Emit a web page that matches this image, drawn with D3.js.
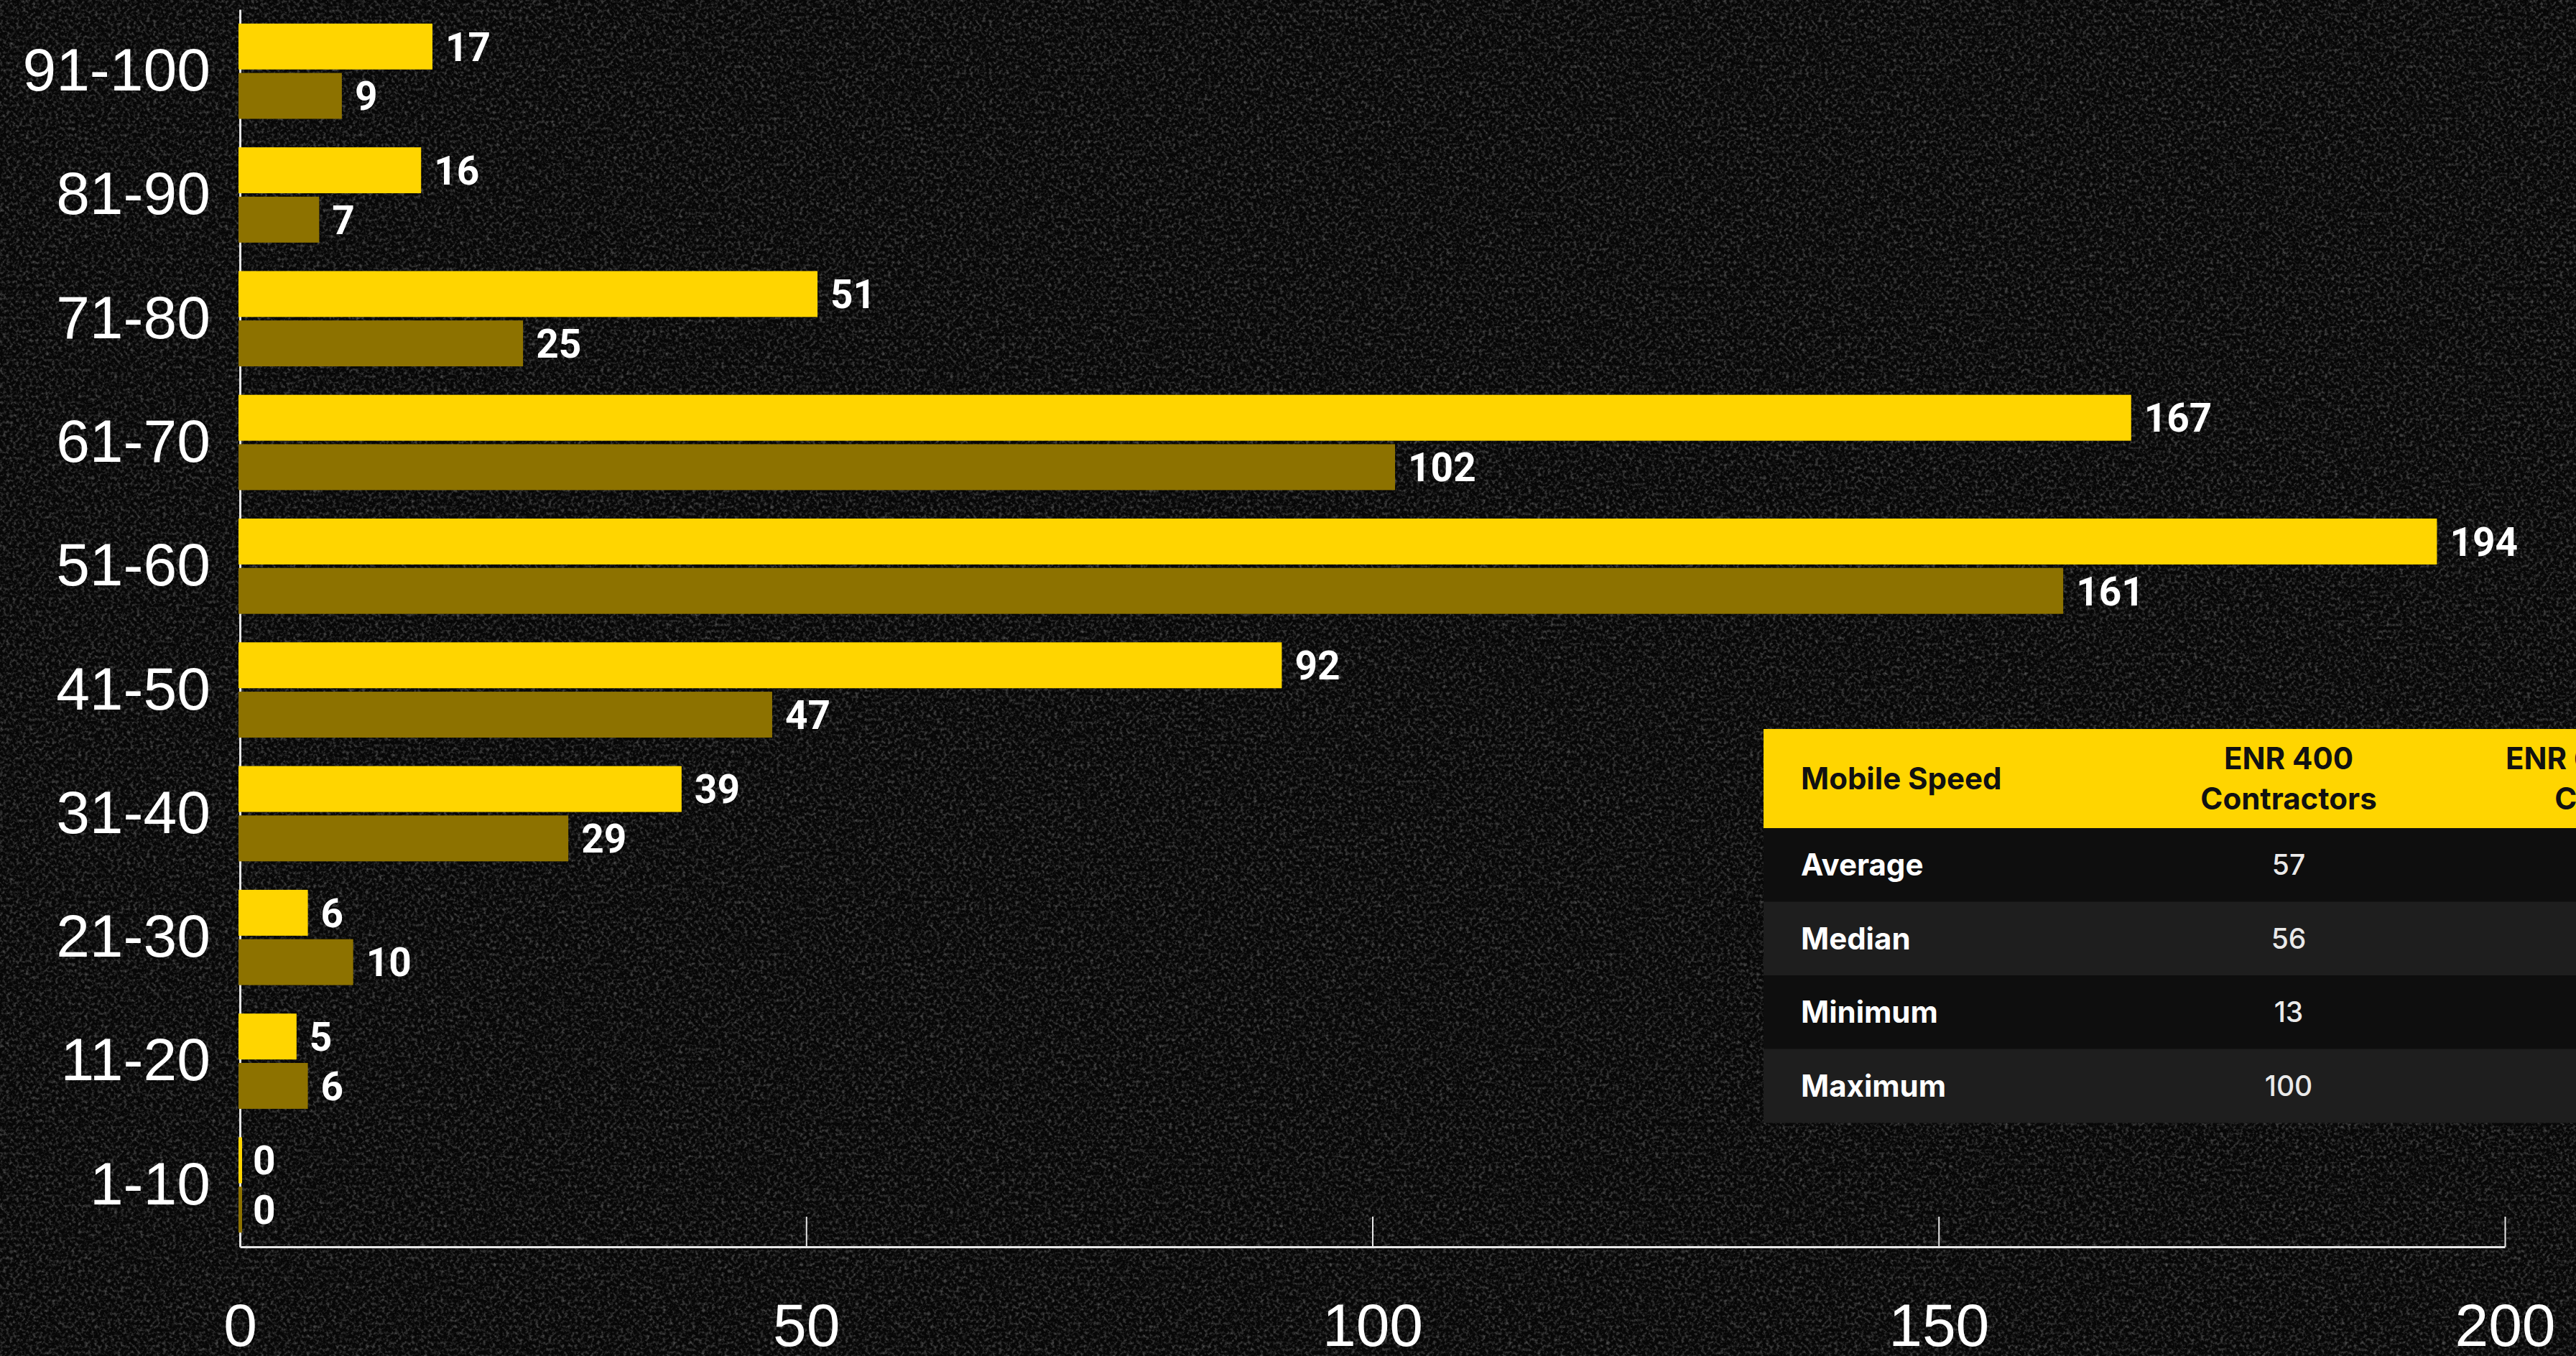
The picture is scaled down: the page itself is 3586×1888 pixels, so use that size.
<!DOCTYPE html>
<html>
<head>
<meta charset="utf-8">
<script src="https://cdn.jsdelivr.net/npm/d3@7"></script>
<style>
  html, body { margin: 0; padding: 0; background: #070707; overflow: hidden; }
  svg { display: block; }
</style>
</head>
<body>
<script>
// ---- data ----
const categories = ["91-100", "81-90", "71-80", "61-70", "51-60", "41-50", "31-40", "21-30", "11-20", "1-10"];
const seriesNames = ["ENR 400 Contractors", "ENR 600 Specialty Contractors"];
const enr400Values = [17, 16, 51, 167, 194, 92, 39, 6, 5, 0];
const enr600Values = [9, 7, 25, 102, 161, 47, 29, 10, 6, 0];
const xTickValues = [0, 50, 100, 150, 200];
const tableHeaders = ["Mobile Speed", "ENR 400\nContractors", "ENR 600 Specialty\nContractors"];
const tableRowLabels = ["Average", "Median", "Minimum", "Maximum"];
const tableEnr400Stats = [57, 56, 13, 100];

const W = 3586, H = 1888;
const YELLOW = "#FFD500", OLIVE = "#8D7200";

const svg = d3.select("body").append("svg").attr("width", W).attr("height", H);

// background with grain texture
const defs = svg.append("defs");
const f = defs.append("filter").attr("id", "grain").attr("x", 0).attr("y", 0).attr("width", "100%").attr("height", "100%");
f.append("feTurbulence").attr("type", "fractalNoise").attr("baseFrequency", "0.22").attr("numOctaves", 3).attr("seed", 7).attr("result", "n");
f.append("feColorMatrix").attr("type", "matrix")
  .attr("values", "0 0 0 0 1  0 0 0 0 1  0 0 0 0 1  2.2 0 0 0 -1.0");
svg.append("rect").attr("width", W).attr("height", H).attr("fill", "#070707");
svg.append("rect").attr("width", W).attr("height", H).attr("filter", "url(#grain)").attr("opacity", 0.3);

// scales
const x = d3.scaleLinear().domain([0, 200]).range([334, 3487]);
const y = d3.scaleBand().domain(categories).range([13, 1736]).paddingInner(0.23).paddingOuter(0.115);
const sub = d3.scaleBand().domain(seriesNames).range([0, y.bandwidth()]).paddingInner(0.07);

const rows = categories.map((c, i) => ({ cat: c, vals: [enr400Values[i], enr600Values[i]] }));

// axes (drawn first, bars overlay them)
const axisColor = "#e6e6e6";
const yAxis = svg.append("g").attr("transform", `translate(${x(0)},0)`)
  .call(d3.axisLeft(y).tickSize(0).tickPadding(41));
yAxis.select(".domain").attr("stroke", axisColor).attr("stroke-width", 3);
yAxis.selectAll("text").attr("fill", "#ffffff").attr("font-family", "'Liberation Sans', Arial, sans-serif").attr("font-size", 84);

const xAxis = svg.append("g").attr("transform", `translate(0,1736)`)
  .call(d3.axisBottom(x).tickValues(xTickValues).tickSize(-42).tickSizeOuter(0).tickPadding(78));
xAxis.select(".domain").attr("stroke", axisColor).attr("stroke-width", 3);
xAxis.selectAll(".tick line").attr("stroke", axisColor).attr("stroke-width", 2);
xAxis.selectAll("text").attr("fill", "#ffffff").attr("font-family", "'Liberation Sans', Arial, sans-serif").attr("font-size", 84);

// bars
const colors = [YELLOW, OLIVE];
const grp = svg.append("g").selectAll("g").data(rows).join("g")
  .attr("transform", d => `translate(0,${y(d.cat)})`);

grp.selectAll("rect").data(d => d.vals.map((v, j) => ({ v, s: seriesNames[j], j }))).join("rect")
  .attr("x", d => x(0) - 2)
  .attr("y", d => sub(d.s))
  .attr("width", d => Math.max(x(d.v) - x(0) + 2, 5))
  .attr("height", sub.bandwidth())
  .attr("fill", d => colors[d.j]);

grp.selectAll("text").data(d => d.vals.map((v, j) => ({ v, s: seriesNames[j], j }))).join("text")
  .attr("x", d => x(d.v) + 18)
  .attr("y", d => sub(d.s) + sub.bandwidth() / 2)
  .attr("dy", "0.36em")
  .attr("fill", "#ffffff")
  .attr("font-family", "Roboto, sans-serif")
  .attr("font-weight", 700)
  .attr("font-size", 55)
  .text(d => d.v);

// stats table
const tbl = svg.append("g");
const tLeft = 2455, tRight = 3800, headTop = 1015, headH = 138, rowH = 102.5;
const colCenters = [null, 3186, 3679];
const labelX = 2507;
const tFont = "Inter, Roboto, sans-serif";

tbl.append("rect").attr("x", tLeft).attr("y", headTop).attr("width", tRight - tLeft).attr("height", headH).attr("fill", YELLOW);
tableRowLabels.forEach((lab, i) => {
  const ry = headTop + headH + i * rowH;
  tbl.append("rect").attr("x", tLeft).attr("y", ry).attr("width", tRight - tLeft).attr("height", rowH + 0.5)
    .attr("fill", i % 2 === 0 ? "#0e0e0e" : "#1e1e1e");
  tbl.append("text").attr("x", labelX).attr("y", ry + rowH / 2).attr("dy", "0.36em")
    .attr("fill", "#ffffff").attr("font-family", tFont).attr("font-weight", 700).attr("font-size", 42)
    .text(lab);
  tbl.append("text").attr("x", colCenters[1]).attr("y", ry + rowH / 2).attr("dy", "0.36em")
    .attr("text-anchor", "middle")
    .attr("fill", "#eaeaea").attr("font-family", tFont).attr("font-weight", 500).attr("font-size", 39)
    .text(tableEnr400Stats[i]);
});

tableHeaders.forEach((h, k) => {
  const lines = h.split("\n");
  const cx = k === 0 ? labelX : colCenters[k];
  const t = tbl.append("text")
    .attr("x", cx)
    .attr("text-anchor", k === 0 ? "start" : "middle")
    .attr("fill", "#111111").attr("font-family", tFont).attr("font-weight", 700).attr("font-size", 42);
  const midY = headTop + headH / 2;
  const lh = 56;
  lines.forEach((ln, li) => {
    t.append("tspan").attr("x", cx)
      .attr("y", midY + (li - (lines.length - 1) / 2) * lh)
      .attr("dy", "0.36em")
      .text(ln);
  });
});
</script>
</body>
</html>
